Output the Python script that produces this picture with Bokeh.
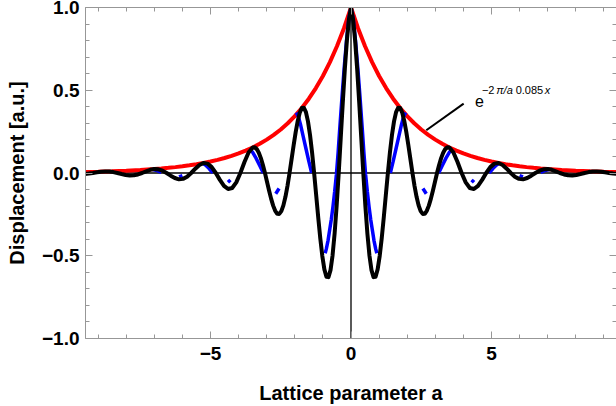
from bokeh.plotting import figure
from bokeh.models import Range1d, LinearAxis, FixedTicker, Span, Label, CustomLabelingPolicy
from bokeh.embed import file_html
from bokeh.resources import INLINE

# ---------------- data (right half, x >= 0; curves are mirror-symmetric) ----------------
# red envelope e^{-2 pi/a 0.085 x}
red_x = [0.0, 0.25, 0.5, 0.75, 1.0, 1.25, 1.5, 1.75, 2.0, 2.25, 2.5, 2.75, 3.0, 3.25, 3.5,
         3.75, 4.0, 4.25, 4.5, 4.75, 5.0, 5.25, 5.5, 5.75, 6.0, 6.25, 6.5, 6.75, 7.0,
         7.5, 8.0, 8.5, 9.0, 9.5]
red_y = [1.0, 0.8750, 0.7657, 0.6699, 0.5862, 0.5129, 0.4489, 0.3928, 0.3437, 0.3007,
         0.2631, 0.2302, 0.2015, 0.1763, 0.1543, 0.1350, 0.1181, 0.1034, 0.0905, 0.0792,
         0.0693, 0.0606, 0.0530, 0.0464, 0.0406, 0.0355, 0.0311, 0.0272, 0.0238,
         0.0182, 0.0140, 0.0107, 0.0082, 0.0063]

# black damped oscillation
black_x = [0.0, 0.0729, 0.1458, 0.2188, 0.2917, 0.3646, 0.4375, 0.5104, 0.5833, 0.6563,
           0.7292, 0.8021, 0.875, 0.9479, 1.0208, 1.0938, 1.1667, 1.2396, 1.3125, 1.3854,
           1.4583, 1.5313, 1.6042, 1.6771, 1.75, 1.8229, 1.8958, 1.9688, 2.0417, 2.1146,
           2.1875, 2.2604, 2.3333, 2.4063, 2.4792, 2.5521, 2.625, 2.6979, 2.7708, 2.8438,
           2.9167, 2.9896, 3.0625, 3.1354, 3.2083, 3.2813, 3.3542, 3.4271, 3.5,
           3.6458, 3.7917, 3.9375, 4.0833, 4.2292, 4.375, 4.5208, 4.6667, 4.8125, 4.9583,
           5.1042, 5.25, 5.3958, 5.5417, 5.6875, 5.8333, 5.9792, 6.125, 6.2708, 6.4167,
           6.5625, 6.7083, 6.8542, 7.0, 7.1458, 7.2917, 7.4375, 7.5833, 7.7292, 7.875,
           8.0208, 8.1667, 8.3125, 8.4583, 8.6042, 8.75, 8.8958, 9.0417, 9.1875, 9.3333,
           9.4792, 9.625]
black_y = [1.0, 0.9290, 0.8011, 0.6291, 0.4279, 0.2130, 0.0, -0.1971, -0.3662, -0.4980,
           -0.5867, -0.6294, -0.6267, -0.5822, -0.5020, -0.3943, -0.2681, -0.1335, 0.0, 0.1235,
           0.2295, 0.3121, 0.3677, 0.3944, 0.3927, 0.3649, 0.3146, 0.2471, 0.1680, 0.0837,
           0.0, -0.0774, -0.1438, -0.1956, -0.2304, -0.2472, -0.2461, -0.2287, -0.1972, -0.1548,
           -0.1053, -0.0524, 0.0, 0.0485, 0.0901, 0.1226, 0.1444, 0.1549, 0.1542,
           0.1236, 0.0660, 0.0, -0.0565, -0.0905, -0.0967, -0.0774, -0.0414, 0.0, 0.0354,
           0.0567, 0.0606, 0.0485, 0.0259, 0.0, -0.0222, -0.0355, -0.0380, -0.0304, -0.0162,
           0.0, 0.0139, 0.0223, 0.0238, 0.0191, 0.0102, 0.0, -0.0087, -0.0140, -0.0149,
           -0.0119, -0.0064, 0.0, 0.0055, 0.0087, 0.0093, 0.0075, 0.0040, 0.0, -0.0034,
           -0.0055, -0.0059]

# blue (sampled) curve: visible pieces, right half
blue_center_x = [0.0, 0.08, 0.16, 0.24, 0.32, 0.40, 0.46, 0.52, 0.58, 0.64, 0.70, 0.76, 0.82, 0.88, 0.92]
blue_center_y = [1.0, 0.93, 0.80, 0.64, 0.46, 0.27, 0.12, -0.01, -0.11, -0.20, -0.28, -0.345, -0.41, -0.46, -0.485]
blue_pieces_x = [[1.40, 1.50, 1.60, 1.70, 1.80, 1.88, 1.95],
                 [2.56, 2.68],
                 [3.12, 3.25, 3.38, 3.50, 3.60],
                 [4.29, 4.38],
                 [4.92, 5.05, 5.18, 5.30],
                 [6.00, 6.12],
                 [6.75, 6.90, 7.05]]
blue_pieces_y = [[0.0, 0.07, 0.145, 0.22, 0.295, 0.345, 0.365],
                 [-0.094, -0.125],
                 [0.0, 0.045, 0.09, 0.125, 0.145],
                 [-0.042, -0.056],
                 [0.0, 0.027, 0.048, 0.06],
                 [-0.016, -0.024],
                 [0.004, 0.014, 0.021]]

x_ticks = [-5, 0, 5]
x_tick_labels = ["\u22125", "0", "5"]
y_ticks = [-1.0, -0.5, 0.0, 0.5, 1.0]
y_tick_labels = ["\u22121.0", "\u22120.5", "0.0", "0.5", "1.0"]
x_title = "Lattice parameter a"
y_title = "Displacement [a.u.]"

pointer_x = [2.68, 4.01]
pointer_y = [0.258, 0.419]
formula_base = "e"
formula_parts = ["\u22122", "\u03c0/a", "0.085", "x"]
formula_italic = [False, True, False, True]
formula_x = [4.66, 5.17, 5.86, 6.90]
base_pos = (4.41, 0.435)
sup_y = 0.50

# ---------------- helpers ----------------
def mirror(xs, ys):
    return [-v for v in reversed(xs[1:])] + list(xs), list(reversed(ys[1:])) + list(ys)

rx, ry = mirror(red_x, red_y)
bx, by = mirror(black_x, black_y)
cx, cy = mirror(blue_center_x, blue_center_y)
mxs = [cx]
mys = [cy]
for xs, ys in zip(blue_pieces_x, blue_pieces_y):
    mxs.append(list(xs)); mys.append(list(ys))
    mxs.append([-v for v in xs]); mys.append(list(ys))

FRAME = "#979797"
FONT = "Liberation Sans"

p = figure(width=616, height=406, x_range=Range1d(-9.45, 9.45), y_range=Range1d(-1, 1),
           output_backend="svg", toolbar_location=None,
           min_border_left=85, min_border_right=0, min_border_top=7, min_border_bottom=68,
           x_axis_label=x_title, y_axis_label=y_title)
p.grid.visible = False
p.outline_line_color = None
p.background_fill_color = "white"
p.border_fill_color = "white"

x_minor = list(range(-9, 10))
y_minor = [round(-1 + 0.1 * i, 1) for i in range(21)]

def hide_all():
    return CustomLabelingPolicy(code="""
    for (const i of indices) indices.unset(i)
    return indices
""")

def style(ax, labels=True):
    ax.axis_line_color = FRAME
    ax.major_tick_line_color = FRAME
    ax.minor_tick_line_color = FRAME
    ax.major_tick_in = 7
    ax.major_tick_out = 0
    ax.minor_tick_in = 4
    ax.minor_tick_out = 0
    if labels:
        ax.major_label_text_font = FONT
        ax.major_label_text_font_style = "bold"
        ax.major_label_text_font_size = "19px"
        ax.major_label_text_color = "black"
        ax.major_label_text_line_height = 1.0
        ax.axis_label_text_font = FONT
        ax.axis_label_text_font_style = "bold"
        ax.axis_label_text_font_size = "20px"
        ax.axis_label_text_color = "black"
        ax.axis_label_text_line_height = 1.0
    else:
        ax.major_label_policy = hide_all()
        ax.major_label_text_font_size = "0px"
        ax.major_label_standoff = 0

xa = p.xaxis[0]
xa.ticker = FixedTicker(ticks=x_ticks, minor_ticks=x_minor)
xa.major_label_overrides = dict(zip(x_ticks, x_tick_labels))
style(xa)
xa.major_label_standoff = 8
xa.axis_label_standoff = 19

ya = p.yaxis[0]
ya.ticker = FixedTicker(ticks=y_ticks, minor_ticks=y_minor)
ya.major_label_overrides = dict(zip(y_ticks, y_tick_labels))
style(ya)
ya.major_label_standoff = 6
ya.axis_label_standoff = 11

top = LinearAxis(ticker=FixedTicker(ticks=x_ticks, minor_ticks=x_minor))
style(top, labels=False)
p.add_layout(top, "above")
right = LinearAxis(ticker=FixedTicker(ticks=y_ticks, minor_ticks=y_minor))
style(right, labels=False)
right.axis_line_color = None
p.add_layout(right, "right")

p.add_layout(Span(location=0, dimension="width", line_color="black", line_width=1.3, level="underlay"))
p.add_layout(Span(location=0, dimension="height", line_color="black", line_width=1.3, level="underlay"))

p.line(rx, ry, line_color="#ff0000", line_width=4)
p.multi_line(mxs, mys, line_color="#0000ff", line_width=3.5)
p.line(bx, by, line_color="black", line_width=4, line_join="round")

p.line(pointer_x, pointer_y, line_color="black", line_width=2)
p.add_layout(Label(x=base_pos[0], y=base_pos[1], text=formula_base, text_font=FONT,
                   text_font_size="16px", text_color="black", text_baseline="alphabetic"))
for t, it, xx in zip(formula_parts, formula_italic, formula_x):
    p.add_layout(Label(x=xx, y=sup_y, text=t, text_font=FONT, text_font_size="11px",
                       text_font_style="italic" if it else "normal", text_color="black",
                       text_baseline="alphabetic"))

open("out.html", "w").write(file_html(p, INLINE))
